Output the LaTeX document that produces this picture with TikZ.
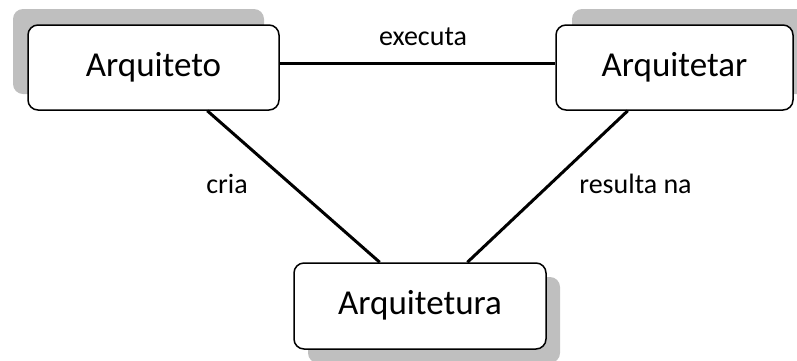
\documentclass[tikz,border=0pt]{standalone}
\usepackage{fontspec}
\setmainfont{Carlito}
\usetikzlibrary{calc,shadows}

\tikzset{
  concept/.style={draw,line width=1.5pt,rounded corners=10pt,fill=white,
    minimum height=85pt,font=\fontsize{35}{42}\selectfont,
    text height=24pt,text depth=7pt},
  shadowed/.style 2 args={drop shadow={shadow xshift=#1,shadow yshift=#2,
    opacity=1,fill=black!25}},
  relation/.style={font=\fontsize{28}{34}\selectfont,anchor=base},
  link/.style={line width=3pt}
}

\begin{document}
\begin{tikzpicture}[x=1pt,y=-1pt]
\useasboundingbox (0,0) rectangle (797,360);

\node[concept,minimum width=251pt,shadowed={-15pt}{16pt}]
  (arquiteto) at (153.5,67.5) {Arquiteto};
\node[concept,minimum width=237pt,shadowed={16pt}{16pt}]
  (arquitetar) at (674.5,67.5) {Arquitetar};
\node[concept,minimum width=252pt,minimum height=86pt,shadowed={14pt}{-14pt}]
  (arquitetura) at (420,306) {Arquitetura};

% ligacoes
\coordinate (e1) at ($(arquiteto.north east)!0.45!(arquiteto.south east)$);
\draw[link] (e1) -- (e1 -| arquitetar.west);
\draw[link] ($(arquiteto.south west)!0.713!(arquiteto.south east)$)
  -- ($(arquitetura.north west)!0.341!(arquitetura.north east)$);
\draw[link] ($(arquitetar.south west)!0.304!(arquitetar.south east)$)
  -- ($(arquitetura.north west)!0.687!(arquitetura.north east)$);

\node[relation] (executa) at (423,45) {executa};
\node[relation] (cria) at (227,193) {cria};
\node[relation] (resulta) at (635.5,193) {resulta na};
\end{tikzpicture}
\end{document}
